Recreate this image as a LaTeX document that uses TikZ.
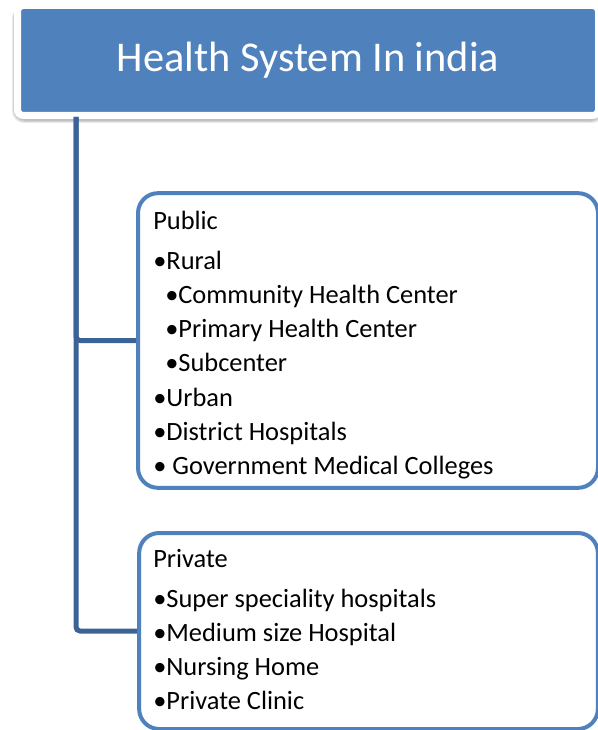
\documentclass[tikz,border=0pt]{standalone}
\usepackage{fontspec}
\setmainfont{Carlito}
\definecolor{boxblue}{RGB}{79,129,189}
\definecolor{linkblue}{RGB}{60,99,150}
\tikzset{
  titlebox/.style={fill=boxblue, draw=white, line width=5.25pt, rounded corners=4.5pt,
    text=white, font=\fontsize{31.8}{36}\selectfont, inner sep=0pt},
  titleshadow/.style={fill=black, opacity=0.09, rounded corners=9pt},
  listbox/.style={draw=boxblue, line width=3pt, rounded corners=15pt, inner sep=0pt, fill=white},
  listtext/.style={anchor=north west, align=left, inner sep=0pt,
    font=\fontsize{19.8}{25.7}\selectfont},
  link/.style={draw=linkblue, line width=3.75pt, rounded corners=3pt}
}
\begin{document}
\begin{tikzpicture}[x=0.75pt,y=0.75pt,yscale=-1,xscale=1]
\useasboundingbox (0,0) rectangle (597,730);

% Title shadow
\fill [titleshadow] (12,6) rectangle (604,123);
\fill [titleshadow] (13,6) rectangle (603,122);
\fill [titleshadow] (14,6) rectangle (602,121);
% Title
\node [titlebox, minimum width=435.75pt, minimum height=82.5pt] (title) at (308,60.5) {Health System In india};
\coordinate (trunk) at (76,117);

% Boxes
\node [listbox, minimum width=345pt, minimum height=221pt] (public) at (368,340.5) {};
\node [listbox, minimum width=344pt, minimum height=147pt] (private) at (368.5,631) {};

% Connectors
\draw [link] (trunk) |- (public.west);
\draw [link] (trunk) |- (private.west);

% Text Node
\node [listtext] (publictext) at (153,211) {Public\\[4pt]
  •Rural\\
  \hspace{9pt}•Community Health Center\\
  \hspace{9pt}•Primary Health Center\\
  \hspace{9pt}•Subcenter\\
  •Urban\\
  •District Hospitals\\
  • Government Medical Colleges};
% Text Node
\node [listtext] (privatetext) at (153,549) {Private\\[4pt]
  •Super speciality hospitals\\
  •Medium size Hospital\\
  •Nursing Home\\
  •Private Clinic};
\end{tikzpicture}
\end{document}
